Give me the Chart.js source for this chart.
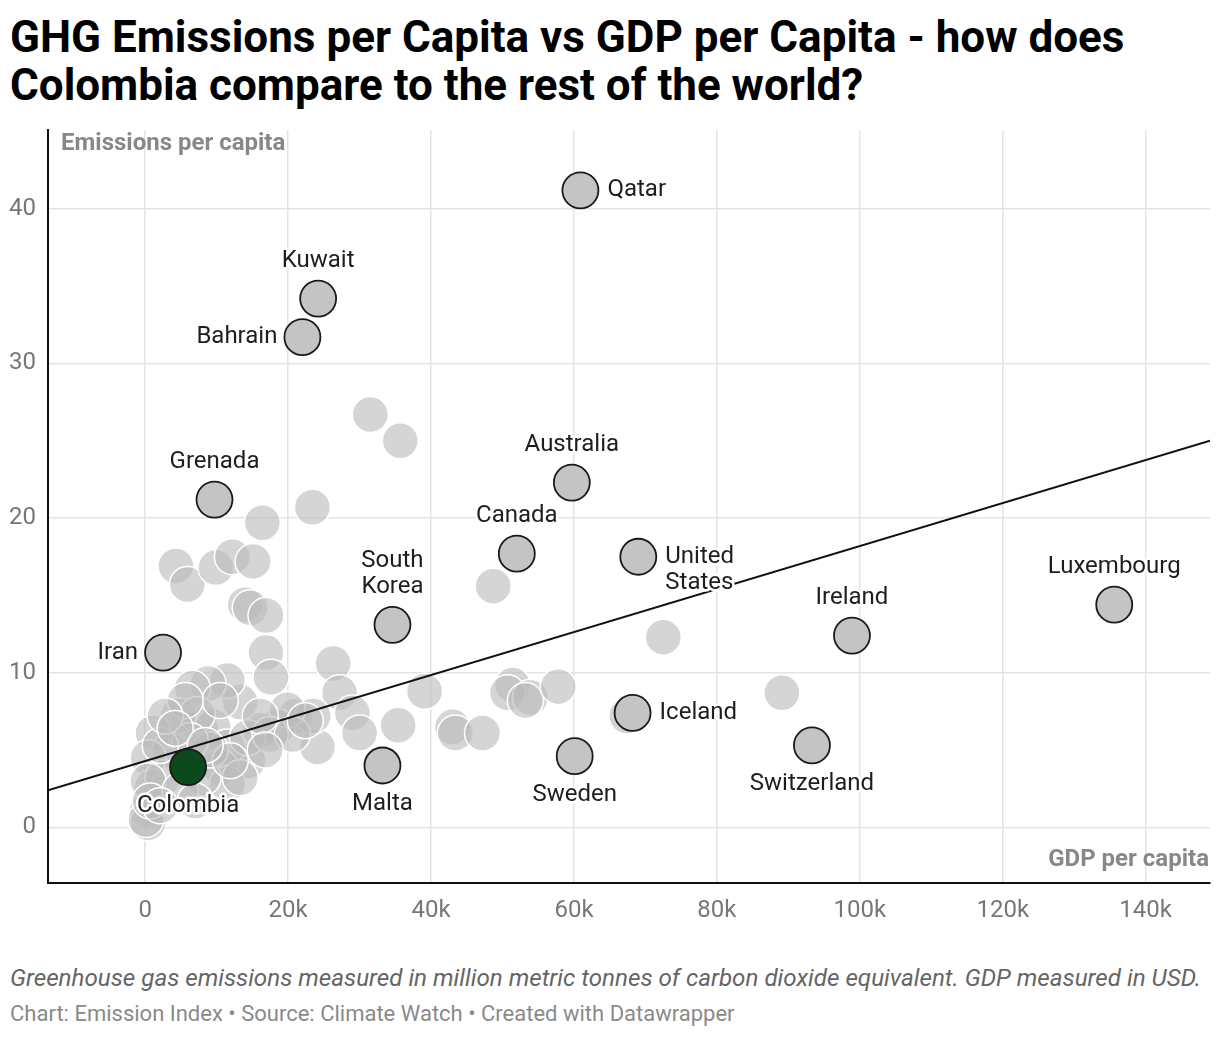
<!DOCTYPE html>
<html>
<head>
<meta charset="utf-8">
<script src="https://cdn.jsdelivr.net/npm/chart.js@4.4.1/dist/chart.umd.min.js"></script>
<style>
  body { margin: 0; background: #fff; font-family: Roboto, sans-serif; }
  #title { position: absolute; left: 10px; top: 13px; width: 1210px; font-weight: 700; font-size: 44px; line-height: 48px; color: #000; white-space: nowrap; }
  #wrap { position: absolute; left: 0; top: 120px; width: 1220px; height: 810px; }
  #note { position: absolute; left: 10px; top: 964px; font-style: italic; font-size: 24.2px; line-height: 28px; color: #656565; white-space: nowrap; }
  #src { position: absolute; left: 10px; top: 1001px; font-size: 22px; line-height: 26px; color: #8a8a8a; white-space: nowrap; }
</style>
</head>
<body>
<div id="title">GHG Emissions per Capita vs GDP per Capita - how does<br>Colombia compare to the rest of the world?</div>
<div id="wrap"><canvas id="c" width="1220" height="810"></canvas></div>
<div id="note">Greenhouse gas emissions measured in million metric tonnes of carbon dioxide equivalent. GDP measured in USD.</div>
<div id="src">Chart: Emission Index • Source: Climate Watch • Created with Datawrapper</div>
<script>
// ---------- DATA ----------
// Unlabelled countries (GDP per capita in USD, emissions per capita)
const otherGdp = [
  31500, 35700, 23400, 16400, 4300, 5900, 9900, 12200, 15100, 14000,
  14700, 16900, 16900, 17600, 26300, 27200, 29000, 30000, 24100, 21000,
  23500, 35400, 39100, 48700, 72500, 89100, 51400, 50700, 53900, 53200,
  57800, 43000, 43400, 47200, 67400, 18500, 16100, 19900, 14400, 13300,
  11500, 8800, 6600, 7700, 9500, 11500, 4600, 7300, 1100, 3500,
  400, 1000, 300, 400, 100, 14300, 10500, 11500, 2500, 8100,
  9100, 6300, 2100, 400, 700, 13300, 17500, 11900, 16100, 10500,
  5600, 2800, 4200, 8400, 4900, 7000, 2100, 20600, 22400, 16800
];
const otherEmissions = [
  26.7, 25.0, 20.7, 19.7, 16.9, 15.7, 16.8, 17.5, 17.2, 14.4,
  14.2, 13.7, 11.3, 9.7, 10.6, 8.7, 7.4, 6.1, 5.2, 7.2,
  7.2, 6.6, 8.8, 15.6, 12.3, 8.7, 9.2, 8.7, 8.4, 8.2,
  9.1, 6.5, 6.1, 6.1, 7.2, 6.5, 6.3, 7.6, 4.3, 8.1,
  9.5, 9.3, 9.0, 6.5, 6.5, 5.2, 7.2, 7.3, 6.1, 5.0,
  4.5, 2.6, 1.1, 0.3, 0.5, 5.8, 3.9, 2.8, 3.2, 3.2,
  5.0, 5.6, 5.3, 3.0, 1.7, 3.2, 6.0, 4.3, 7.2, 8.2,
  8.2, 7.2, 6.4, 5.3, 2.4, 1.7, 1.4, 6.0, 6.9, 5.0
];
// Labelled countries
const namedCountries = ['Qatar', 'Kuwait', 'Bahrain', 'Grenada', 'Australia', 'Canada', 'United States',
  'South Korea', 'Luxembourg', 'Ireland', 'Iran', 'Iceland', 'Switzerland', 'Sweden', 'Malta'];
const namedGdp = [60900, 24200, 22000, 9700, 59700, 52000, 69000,
  34600, 135600, 98900, 2500, 68200, 93300, 60100, 33200];
const namedEmissions = [41.2, 34.2, 31.7, 21.2, 22.3, 17.7, 17.5,
  13.1, 14.4, 12.4, 11.3, 7.4, 5.3, 4.6, 4.0];
// Highlighted country
const highlightCountry = ['Colombia'];
const highlightGdp = [6000];
const highlightEmissions = [3.9];
// Trend line end points
const trendGdp = [-13600, 149000];
const trendEmissions = [2.4, 25.0];
// Axis ticks
const xTickValues = [0, 20000, 40000, 60000, 80000, 100000, 120000, 140000];
const xTickLabels = ['0', '20k', '40k', '60k', '80k', '100k', '120k', '140k'];
const yTickValues = [0, 10, 20, 30, 40];
const yTickLabels = ['0', '10', '20', '30', '40'];
const xAxisTitle = 'GDP per capita';
const yAxisTitle = 'Emissions per capita';

// ---------- LABEL PLACEMENT (style) ----------
const labelPlacement = {
  'Qatar': 'right', 'Kuwait': 'above', 'Bahrain': 'left', 'Grenada': 'above', 'Australia': 'above',
  'Canada': 'above', 'United States': 'right', 'South Korea': 'above', 'Luxembourg': 'above',
  'Ireland': 'above', 'Iran': 'left', 'Iceland': 'right', 'Switzerland': 'below', 'Sweden': 'below',
  'Malta': 'below', 'Colombia': 'below'
};
const labelLines = { 'United States': ['United', 'States'], 'South Korea': ['South', 'Korea'] };

const toPoints = (xs, ys) => xs.map((x, i) => ({ x: x, y: ys[i] }));

const labelPlugin = {
  id: 'pointLabels',
  beforeDatasetsDraw(chart) {
    const { ctx, chartArea } = chart;
    ctx.save();
    ctx.font = 'bold 24px Roboto';
    ctx.fillStyle = '#888';
    ctx.textBaseline = 'middle';
    ctx.textAlign = 'left';
    ctx.fillText(yAxisTitle, chartArea.left + 13, chartArea.top + 14);
    ctx.textAlign = 'right';
    ctx.fillText(xAxisTitle, chartArea.right - 1, chartArea.bottom - 23);
    ctx.restore();
  },
  afterDatasetsDraw(chart) {
    const ctx = chart.ctx;
    ctx.save();
    ctx.font = '24px Roboto';
    ctx.lineJoin = 'round';
    ctx.textBaseline = 'middle';
    const drawText = (t, x, y, align) => {
      ctx.textAlign = align;
      ctx.strokeStyle = '#fff';
      ctx.lineWidth = 5;
      ctx.strokeText(t, x, y);
      ctx.fillStyle = '#1e1e1e';
      ctx.fillText(t, x, y);
    };
    const lh = 26;
    const place = (name, el) => {
      const lines = labelLines[name] || [name];
      const pos = labelPlacement[name];
      const px = el.x, py = el.y;
      lines.forEach((ln, i) => {
        if (pos === 'right') drawText(ln, px + 27, py + i * lh, 'left');
        else if (pos === 'left') drawText(ln, px - 25, py + i * lh, 'right');
        else if (pos === 'above') drawText(ln, px, py - 38 - (lines.length - 1 - i) * lh, 'center');
        else drawText(ln, px, py + 39 + i * lh, 'center');
      });
    };
    chart.getDatasetMeta(2).data.forEach((el, i) => place(namedCountries[i], el));
    chart.getDatasetMeta(3).data.forEach((el, i) => place(highlightCountry[i], el));
    ctx.restore();
  }
};

new Chart(document.getElementById('c'), {
  type: 'scatter',
  data: {
    datasets: [
      {
        label: 'Other countries',
        data: toPoints(otherGdp, otherEmissions),
        backgroundColor: 'rgba(188,188,188,0.62)',
        borderColor: '#ffffff',
        borderWidth: 1.5,
        pointRadius: 18,
        pointHoverRadius: 18,
        order: 4
      },
      {
        label: 'Trend',
        type: 'line',
        data: toPoints(trendGdp, trendEmissions),
        borderColor: '#111',
        borderWidth: 2,
        pointRadius: 0,
        fill: false,
        order: 3
      },
      {
        label: 'Labelled',
        data: toPoints(namedGdp, namedEmissions),
        backgroundColor: '#c4c4c4',
        borderColor: '#1a1a1a',
        borderWidth: 1.8,
        pointRadius: 18,
        pointHoverRadius: 18,
        order: 2
      },
      {
        label: 'Colombia',
        data: toPoints(highlightGdp, highlightEmissions),
        backgroundColor: '#0b4a1d',
        borderColor: '#1a1a1a',
        borderWidth: 1.8,
        pointRadius: 18,
        pointHoverRadius: 18,
        order: 1
      }
    ]
  },
  options: {
    responsive: false,
    animation: false,
    events: [],
    layout: { autoPadding: false, padding: { top: 10, right: 10, left: 0, bottom: 0 } },
    plugins: { legend: { display: false }, tooltip: { enabled: false } },
    scales: {
      x: {
        type: 'linear',
        min: -13600,
        max: 149000,
        afterFit(s) { s.height = 47; s.paddingLeft = 0; s.paddingRight = 0; },
        afterBuildTicks(s) { s.ticks = xTickValues.map(v => ({ value: v })); },
        grid: { color: '#e4e4e4', lineWidth: 1.5, drawTicks: false },
        border: { display: true, color: '#111', width: 2 },
        ticks: {
          padding: 14,
          color: '#777',
          font: { family: 'Roboto', size: 24 },
          maxRotation: 0,
          callback: (v) => { const i = xTickValues.indexOf(v); return i >= 0 ? xTickLabels[i] : ''; }
        }
      },
      y: {
        type: 'linear',
        min: -3.6,
        max: 45.1,
        afterFit(s) { s.width = 48; s.paddingTop = 0; s.paddingBottom = 0; },
        afterBuildTicks(s) { s.ticks = yTickValues.map(v => ({ value: v })); },
        grid: { color: '#e4e4e4', lineWidth: 1.5, drawTicks: false },
        border: { display: true, color: '#111', width: 2 },
        ticks: {
          padding: 12,
          color: '#777',
          font: { family: 'Roboto', size: 24 },
          callback: (v) => { const i = yTickValues.indexOf(v); return i >= 0 ? yTickLabels[i] : ''; }
        }
      }
    }
  },
  plugins: [labelPlugin]
});
</script>
</body>
</html>
